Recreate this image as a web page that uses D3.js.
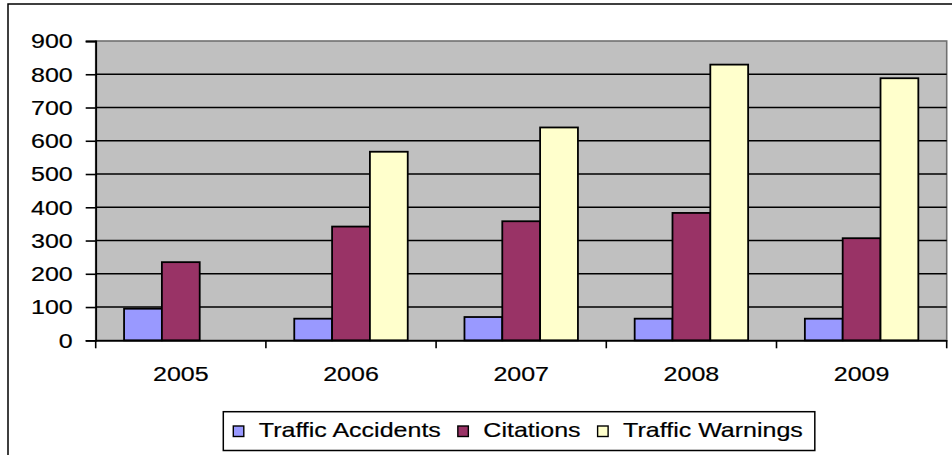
<!DOCTYPE html>
<html>
<head>
<meta charset="utf-8">
<script src="https://cdn.jsdelivr.net/npm/d3@7"></script>
<style>
  body { margin: 0; background: #fff; }
  text { font-family: Arial, 'Liberation Sans', sans-serif; fill: #000; stroke: #000; stroke-width: 0.2px; }
</style>
</head>
<body>
<div id="chart"></div>
<script>
const years = ['2005', '2006', '2007', '2008', '2009']
const seriesNames = ['Traffic Accidents', 'Citations', 'Traffic Warnings']
const accidents = [95, 65, 70, 65, 65]
const citations = [235, 342, 358, 383, 307]
const warnings = [null, 567, 640, 829, 788]
const yTicks = [0, 100, 200, 300, 400, 500, 600, 700, 800, 900]
const seriesColors = ['#9999ff', '#993366', '#ffffcc']

const width = 952
const height = 455
const plot = { left: 95.7, right: 946.7, top: 41, bottom: 340.3 }
const fontSize = 20.5
const stretch = 1.22

const svg = d3
  .select('#chart')
  .append('svg')
  .attr('width', width)
  .attr('height', height)

// outer chart frame (runs past the window on right and bottom)
svg
  .append('rect')
  .attr('x', 8)
  .attr('y', 4)
  .attr('width', 980)
  .attr('height', 480)
  .attr('fill', '#fff')
  .attr('stroke', '#000')
  .attr('stroke-width', 1.5)

// scales
const x0 = d3
  .scaleBand()
  .domain(years)
  .range([plot.left, plot.right])

const x1 = d3
  .scaleBand()
  .domain(seriesNames)
  .range([0, x0.bandwidth()])
  .paddingInner(0)
  .paddingOuter(0.75)

const y = d3
  .scaleLinear()
  .domain([0, 900])
  .range([plot.bottom, plot.top])

const color = d3.scaleOrdinal().domain(seriesNames).range(seriesColors)

function addText(parent, str, px, py, anchor) {
  return parent
    .append('text')
    .text(str)
    .attr('transform', `translate(${px},${py}) scale(${stretch},1)`)
    .attr('text-anchor', anchor)
    .attr('font-size', fontSize)
}

// plot area
svg
  .append('rect')
  .attr('x', plot.left)
  .attr('y', plot.top)
  .attr('width', plot.right - plot.left)
  .attr('height', plot.bottom - plot.top)
  .attr('fill', '#c0c0c0')
  .attr('stroke', '#707070')
  .attr('stroke-width', 1.6)

// gridlines
svg
  .selectAll('.grid')
  .data(yTicks.filter(d => d > 0 && d < 900))
  .enter()
  .append('line')
  .attr('class', 'grid')
  .attr('x1', plot.left)
  .attr('x2', plot.right)
  .attr('y1', d => y(d))
  .attr('y2', d => y(d))
  .attr('stroke', '#000')
  .attr('stroke-width', 1.6)

// bars
const rows = years.map((yr, i) => ({
  year: yr,
  values: [accidents[i], citations[i], warnings[i]]
}))

svg
  .selectAll('.cluster')
  .data(rows)
  .enter()
  .append('g')
  .attr('class', 'cluster')
  .attr('transform', d => `translate(${x0(d.year)},0)`)
  .selectAll('rect')
  .data(d => seriesNames.map((s, j) => ({ series: s, value: d.values[j] })).filter(d => d.value != null))
  .enter()
  .append('rect')
  .attr('x', d => x1(d.series))
  .attr('y', d => y(d.value))
  .attr('width', x1.bandwidth())
  .attr('height', d => y(0) - y(d.value))
  .attr('fill', d => color(d.series))
  .attr('stroke', '#000')
  .attr('stroke-width', 1.8)

// y axis
const yAxis = svg
  .append('g')
  .attr('transform', `translate(${plot.left},0)`)
  .call(d3.axisLeft(y).tickValues(yTicks).tickSize(10).tickFormat(''))
yAxis.select('.domain').attr('stroke', '#000').attr('stroke-width', 1.8)
yAxis.selectAll('.tick line').attr('stroke', '#000').attr('stroke-width', 1.6)

yTicks.forEach(t => addText(svg, t, 72.7, y(t) + 7.3, 'end'))

// x axis, ticks at category boundaries
const xAxis = svg
  .append('g')
  .attr('transform', `translate(0,${plot.bottom})`)
  .call(
    d3
      .axisBottom(x0)
      .tickSize(0)
      .tickFormat('')
  )
xAxis.select('.domain').attr('stroke', '#000').attr('stroke-width', 1.8)

svg
  .selectAll('.xtick')
  .data(years.map(d => x0(d)).concat([plot.right]))
  .enter()
  .append('line')
  .attr('class', 'xtick')
  .attr('x1', d => d)
  .attr('x2', d => d)
  .attr('y1', plot.bottom)
  .attr('y2', plot.bottom + 8)
  .attr('stroke', '#000')
  .attr('stroke-width', 1.6)

years.forEach(yr => addText(svg, yr, x0(yr) + x0.bandwidth() / 2, 380.7, 'middle'))

// legend
const legend = svg.append('g')
const legendBox = legend
  .append('rect')
  .attr('y', 411.7)
  .attr('height', 38.8)
  .attr('fill', '#fff')
  .attr('stroke', '#000')
  .attr('stroke-width', 1.5)

let lx = 233.3
seriesNames.forEach(s => {
  legend
    .append('rect')
    .attr('x', lx)
    .attr('y', 426)
    .attr('width', 10.5)
    .attr('height', 10.5)
    .attr('fill', color(s))
    .attr('stroke', '#000')
    .attr('stroke-width', 1.4)
  const t = addText(legend, s, lx + 25.5, 436.7, 'start')
  const w = t.node().getComputedTextLength() * stretch
  lx = lx + 25.5 + w + 17
})
legendBox.attr('x', 223.3).attr('width', lx - 17 + 12 - 223.3)
</script>
</body>
</html>
